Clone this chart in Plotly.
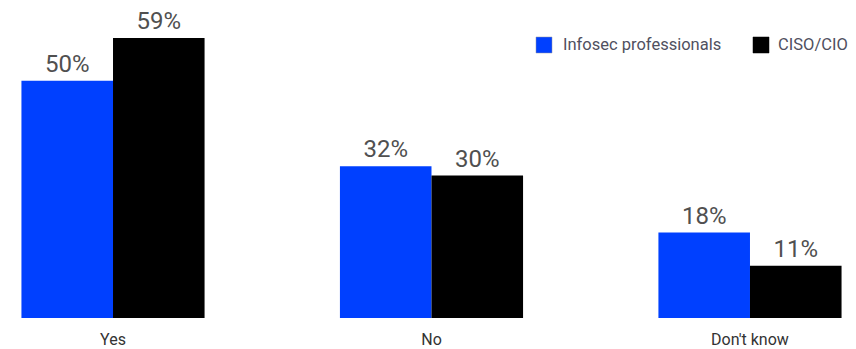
import plotly.graph_objects as go

categories = ["Yes", "No", "Don't know"]
infosec = [50, 32, 18]
ciso = [59, 30, 11]
series_names = ["Infosec professionals", "CISO/CIO"]
colors = ["#0040FF", "#000000"]

W, H = 856, 349
PLOT_H = 310  # plot area height in px (t=0)

fig = go.Figure()
for name, vals, col in zip(series_names, [infosec, ciso], colors):
    fig.add_trace(go.Bar(
        x=list(range(len(categories))), y=vals, name=name,
        marker=dict(color=col, line=dict(width=0)),
        text=[f"{v}%" for v in vals], textposition="outside",
        textfont=dict(family="Roboto", size=24, color="#505050"),
        cliponaxis=False, showlegend=False,
    ))

# manual legend (squares + labels), positioned in paper coordinates
legend_items = [
    (series_names[0], colors[0], 528, 553),
    (series_names[1], colors[1], 745, 768),
]
for name, col, sx, tx in legend_items:
    fig.add_shape(type="rect", xref="paper", yref="paper",
                  x0=sx / W, x1=(sx + 16) / W,
                  y0=(PLOT_H - 45) / PLOT_H, y1=(PLOT_H - 29) / PLOT_H,
                  fillcolor=col, line=dict(width=0.5, color="#9090a0" if col != "#000000" else "#000000"))
    fig.add_annotation(text=name, xref="paper", yref="paper",
                       x=tx / W, y=(PLOT_H - 36.5) / PLOT_H,
                       xanchor="left", yanchor="middle", showarrow=False,
                       font=dict(family="Roboto", size=16.5, color="#505060"))

fig.update_layout(
    width=W, height=H,
    margin=dict(l=0, r=0, t=0, b=H - PLOT_H),
    paper_bgcolor="white", plot_bgcolor="white",
    barmode="group", bargap=0.425, bargroupgap=0,
    showlegend=False,
    xaxis=dict(range=[-0.3297, 2.358], tickmode="array",
               tickvals=list(range(len(categories))), ticktext=categories,
               showgrid=False, zeroline=False, showline=False, ticks="",
               ticklabelstandoff=10,
               tickfont=dict(family="Roboto", size=16, color="#333333")),
    yaxis=dict(range=[0, 65.32], visible=False, showgrid=False, zeroline=False),
    font=dict(family="Roboto"),
)

fig.write_html("out.html")
